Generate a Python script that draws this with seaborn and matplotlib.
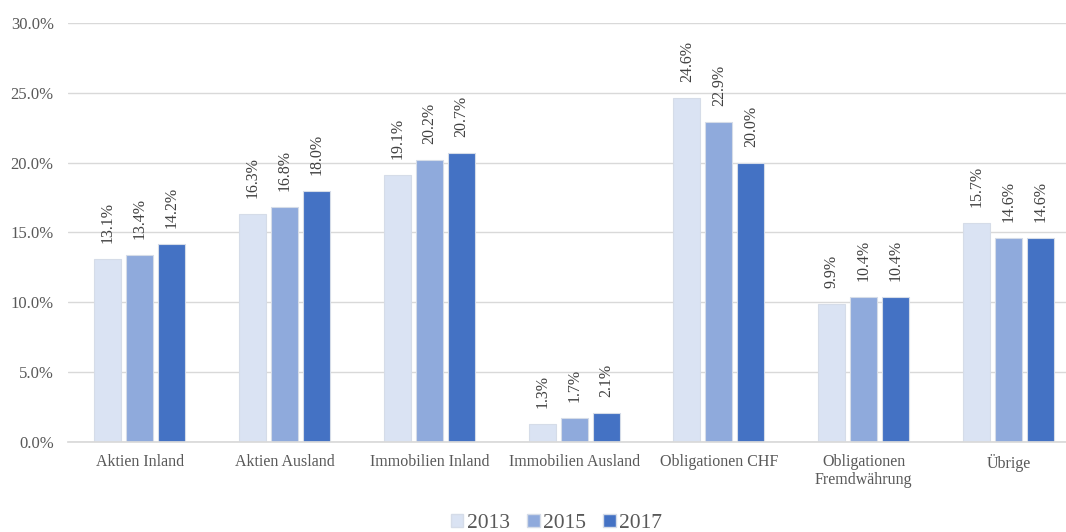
import matplotlib
matplotlib.use("Agg")
import matplotlib.pyplot as plt
import seaborn as sns
import pandas as pd
from matplotlib.patches import Patch

categories = ["Aktien Inland", "Aktien Ausland", "Immobilien Inland", "Immobilien Ausland",
              "Obligationen CHF", "Obligationen\nFremdwährung", "Übrige"]
years = ["2013", "2015", "2017"]
v2013 = [13.1, 16.3, 19.1, 1.3, 24.6, 9.9, 15.7]
v2015 = [13.4, 16.8, 20.2, 1.7, 22.9, 10.4, 14.6]
v2017 = [14.2, 18.0, 20.7, 2.1, 20.0, 10.4, 14.6]
colors = ["#DAE3F3", "#8FAADC", "#4472C4"]

rows = []
for y, vals in zip(years, [v2013, v2015, v2017]):
    for c, v in zip(categories, vals):
        rows.append({"cat": c, "year": y, "val": v})
df = pd.DataFrame(rows)

sns.set_theme(style="white")
plt.rcParams["font.family"] = ["Liberation Serif", "DejaVu Serif"]

fig = plt.figure(figsize=(10.66, 5.32), dpi=100)
ax = fig.add_axes([0.0634, 0.169, 0.9505, 0.788])

sns.barplot(data=df, x="cat", y="val", hue="year", palette=colors, ax=ax, saturation=1,
            width=0.663, gap=0.155, edgecolor="#D5DCE8", linewidth=0.8, legend=False)

for cont in ax.containers:
    ax.bar_label(cont, labels=[f"{b.get_height():.1f}%" for b in cont], rotation=90,
                 padding=11.5, fontsize=11.5, color="#404040")

ax.set_ylim(0, 30)
ax.set_xlim(-0.5, 6.5)
ax.set_yticks([0, 5, 10, 15, 20, 25, 30])
ax.set_yticklabels([f"{t:.1f}%" for t in [0, 5, 10, 15, 20, 25, 30]], fontsize=12, color="#595959")
ax.tick_params(axis="x", labelsize=11.5, colors="#595959", length=0, pad=8.5)
ax.tick_params(axis="y", length=0, pad=10)
ax.grid(axis="y", color="#D9D9D9", linewidth=1)
ax.set_axisbelow(True)
for s in ["top", "right", "left"]:
    ax.spines[s].set_visible(False)
ax.spines["bottom"].set_color("#D9D9D9")
ax.set_xlabel("")
ax.set_ylabel("")

handles = [Patch(facecolor=c, edgecolor="#D5DCE8") for c in colors]
fig.legend(handles, years, loc="center", bbox_to_anchor=(0.522, 0.016), ncol=3, frameon=False,
           fontsize=15.5, handlelength=0.6, handleheight=0.6, handletextpad=0.15,
           columnspacing=0.8, labelcolor="#595959", borderpad=0)

fig.savefig("out.png", dpi=100)
